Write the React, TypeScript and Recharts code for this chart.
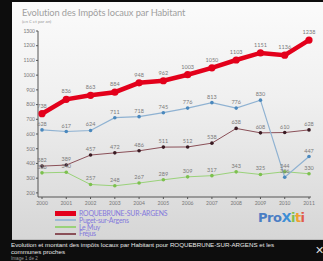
import { LineChart, Line, XAxis, YAxis, LabelList } from "recharts"

// values
const years = ["2000", "2001", "2002", "2003", "2004", "2005", "2006", "2007", "2008", "2009", "2010", "2011"]
const roquebrune = [738, 836, 863, 884, 948, 962, 1003, 1050, 1103, 1151, 1136, 1238]
const puget = [628, 617, 624, 711, 718, 745, 776, 813, 776, 830, 306, 447]
const leMuy = [336, 340, 257, 248, 267, 289, 309, 317, 343, 325, 344, 330]
const frejus = [382, 389, 457, 472, 486, 511, 512, 538, 638, 608, 610, 628]
const yTicks = [200, 300, 400, 500, 600, 700, 800, 900, 1000, 1100, 1200, 1300]

const data = years.map((year, i) => ({
  year,
  roquebrune: roquebrune[i],
  puget: puget[i],
  leMuy: leMuy[i],
  frejus: frejus[i],
}))

const legendItems = [
  { name: "ROQUEBRUNE-SUR-ARGENS", color: "#e3001b", width: 5 },
  { name: "Puget-sur-Argens", color: "#9dbad6", width: 1.5 },
  { name: "Le Muy", color: "#9ad27a", width: 1.5 },
  { name: "Fréjus", color: "#8a5058", width: 1.5 },
]

const font = "Lato, 'DejaVu Sans', sans-serif"
const labelStyle = { fontSize: 5.5, fill: "#7a7a7a", fontFamily: font }

export default function App() {
  return (
    <div
      style={{
        position: "absolute",
        left: 0,
        top: 0,
        width: 323,
        height: 261,
        background: "#0d0d0d",
        overflow: "hidden",
        fontFamily: font,
      }}
    >
      <div
        style={{
          position: "absolute",
          left: 12,
          top: 2,
          width: 311,
          height: 237,
          background: "linear-gradient(#fbfbfb, #f0f0f0 40%, #d6d6d6)",
          borderBottom: "1px solid #bbb",
        }}
      />
      <div style={{ position: "absolute", left: 22, top: 7, fontSize: 9.3, color: "#a0a0a0", whiteSpace: "nowrap", letterSpacing: -0.1 }}>
        Evolution des Impôts locaux par Habitant
      </div>
      <div style={{ position: "absolute", left: 22, top: 19, fontSize: 4.5, color: "#999", whiteSpace: "nowrap" }}>
        (en € et par an)
      </div>
      <div style={{ position: "absolute", left: 0, top: 0 }}>
        <LineChart width={323} height={261} data={data} margin={{ top: 31, right: 12, left: 8, bottom: 44 }}>
          <XAxis
            dataKey="year"
            height={20}
            padding={{ left: 4, right: 2 }}
            tick={{ fontSize: 5, fill: "#777", fontFamily: font }}
            tickSize={2}
            tickMargin={2}
            stroke="#555"
          />
          <YAxis
            width={30}
            domain={[172, 1300]}
            ticks={yTicks}
            interval={0}
            tick={{ fontSize: 5, fill: "#777", fontFamily: font }}
            tickSize={2}
            tickMargin={1}
            stroke="#555"
          />
          <Line dataKey="leMuy" stroke="#9ad27a" strokeWidth={1} dot={{ r: 1.8, fill: "#7cc04e", stroke: "none" }} isAnimationActive={false}>
            <LabelList dataKey="leMuy" position="top" offset={4} style={labelStyle} />
          </Line>
          <Line dataKey="frejus" stroke="#8a5058" strokeWidth={1} dot={{ r: 1.8, fill: "#3a1a22", stroke: "none" }} isAnimationActive={false}>
            <LabelList dataKey="frejus" position="top" offset={4} style={labelStyle} />
          </Line>
          <Line dataKey="puget" stroke="#8fb2d2" strokeWidth={1.2} dot={{ r: 1.8, fill: "#4a88bd", stroke: "none" }} isAnimationActive={false}>
            <LabelList dataKey="puget" position="top" offset={4} style={labelStyle} />
          </Line>
          <Line dataKey="roquebrune" stroke="#e3001b" strokeWidth={4.5} dot={{ r: 3.6, fill: "#e3001b", stroke: "none" }} isAnimationActive={false}>
            <LabelList dataKey="roquebrune" position="top" offset={6} style={labelStyle} />
          </Line>
        </LineChart>
      </div>
      <div style={{ position: "absolute", left: 55, top: 210 }}>
        {legendItems.map((item) => (
          <div key={item.name} style={{ display: "flex", alignItems: "center", height: 6.8 }}>
            <div style={{ width: 21, height: item.width, background: item.color, marginRight: 3 }} />
            <span style={{ fontSize: 6.9, color: "#8478dc", lineHeight: "6.8px", whiteSpace: "nowrap", letterSpacing: -0.2 }}>
              {item.name}
            </span>
          </div>
        ))}
      </div>
      <div style={{ position: "absolute", left: 258, top: 210, fontSize: 13, fontWeight: 700, fontFamily: "'DejaVu Sans', sans-serif", whiteSpace: "nowrap", letterSpacing: -0.5 }}>
        <span style={{ color: "#4a7ec4" }}>Pro</span>
        <span style={{ color: "#3d8fd6" }}>X</span>
        <span style={{ color: "#82c04a" }}>i</span>
        <span style={{ color: "#f0a030" }}>t</span>
        <span style={{ color: "#e05a4a" }}>i</span>
      </div>
      <div style={{ position: "absolute", left: 11, top: 242, fontSize: 6.2, color: "#e8e8e8", lineHeight: "6.6px", fontFamily: "'Liberation Sans', sans-serif", whiteSpace: "nowrap" }}>
        Evolution et montant des impôts locaux par Habitant pour ROQUEBRUNE-SUR-ARGENS et les
        <br />
        communes proches
        <br />
        <span style={{ color: "#999", fontSize: 4.6 }}>Image 1 de 2</span>
      </div>
      <div style={{ position: "absolute", left: 315, top: 244, fontSize: 11, color: "#ddd", fontFamily: "'DejaVu Sans', sans-serif" }}>
        ✕
      </div>
    </div>
  )
}
